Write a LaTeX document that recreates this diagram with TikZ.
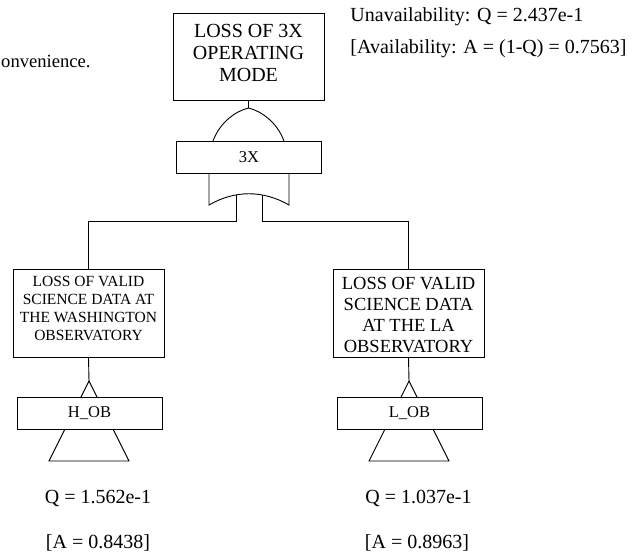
\documentclass[tikz,border=0pt]{standalone}
\usepackage{fontspec}
\setmainfont{Liberation Serif}
\begin{document}
\begin{tikzpicture}[x=1pt, y=-1pt, line width=0.9pt,
  box/.style={draw, fill=white, inner sep=0pt},
  gatebox/.style={box, minimum width=145pt, minimum height=32pt,
    font=\fontsize{16.5}{19}\selectfont},
  eventbox/.style={box, minimum width=151pt, minimum height=88pt},
  txt/.style={inner sep=0pt, font=\fontsize{20}{22}\selectfont},
  boxtext/.style={inner sep=0pt, align=center}]
\useasboundingbox (0,0) rectangle (633,557);

% header texts
\node[inner sep=0pt, font=\fontsize{18.6}{22}\selectfont, anchor=base east] (conv) at (91,67) {onvenience.};
\node[txt, anchor=base west] (unav) at (350,21) {Unavailability: Q = 2.437e-1};
\node[txt, anchor=base west] (avail) at (350,53) {[Availability: A = (1-Q) = 0.7563]};

% top event
\node[box, minimum width=151pt, minimum height=87pt] (top) at (248.5,56.5) {};
\node[boxtext, font=\fontsize{20}{22.3}\selectfont] (toptext) at (248.5,53)
  {LOSS OF 3X\\OPERATING\\MODE};

% OR gate 3X
\coordinate (orapex) at (248.5,108);
\draw (top.south) -- (orapex);
\draw (213,141) .. controls (220,122) and (236,111) .. (orapex)
      .. controls (261,111) and (277,122) .. (284,141);
\node[gatebox] (g3x) at (249,157) {3X};
\draw (209,173) -- (209,205) .. controls (235,190) and (263,190) .. (289,205) -- (289,173);
\coordinate (gl) at (236,195);
\coordinate (gr) at (262,195);

% intermediate events
\node[eventbox] (lw) at (88.5,313) {};
\node[boxtext, font=\fontsize{15.5}{17.8}\selectfont] (lwtext) at (88.5,308.5)
  {LOSS OF VALID\\SCIENCE DATA AT\\THE WASHINGTON\\OBSERVATORY};
\node[eventbox] (ll) at (408.5,313) {};
\node[boxtext, font=\fontsize{18.5}{21.3}\selectfont] (lltext) at (408.5,315)
  {LOSS OF VALID\\SCIENCE DATA\\AT THE LA\\OBSERVATORY};

\draw (gl) -- ++(0,26) -| (lw.north);
\draw (gr) -- ++(0,26) -| (ll.north);

% transfer gates
\coordinate (hta) at (89,381);
\draw (lw.south) -- (hta);
\draw (hta) -- (49,461) -- (129,461) -- cycle;
\node[gatebox] (hob) at (89.5,413) {H\_OB};

\coordinate (lta) at (409,381);
\draw (ll.south) -- (lta);
\draw (lta) -- (369,461) -- (449,461) -- cycle;
\node[gatebox] (lob) at (409.5,413) {L\_OB};

% probabilities
\node[txt, anchor=base] (hq) at (98,503) {Q = 1.562e-1};
\node[txt, anchor=base] (ha) at (98,548) {[A = 0.8438]};
\node[txt, anchor=base] (lq) at (418.5,503) {Q = 1.037e-1};
\node[txt, anchor=base] (la) at (417,548) {[A = 0.8963]};
\end{tikzpicture}
\end{document}
